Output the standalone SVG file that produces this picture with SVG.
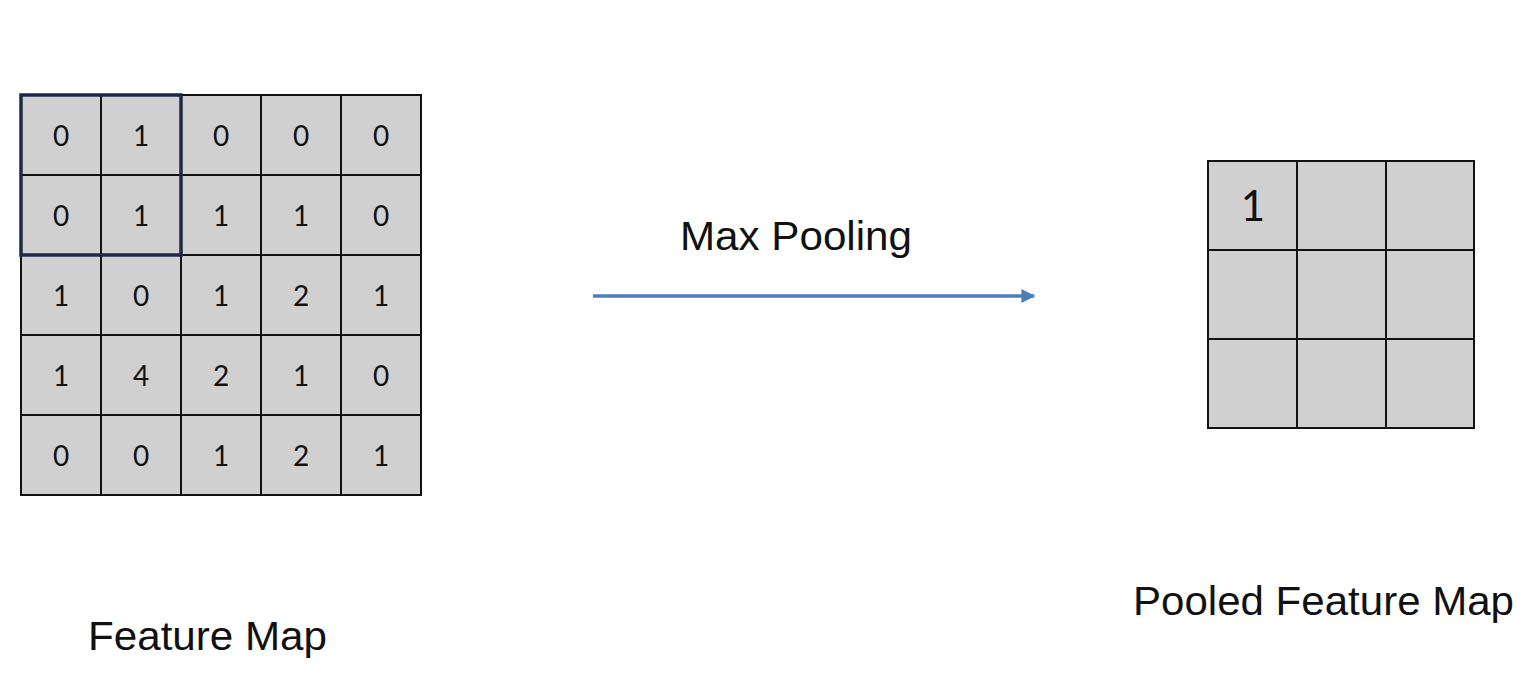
<svg xmlns="http://www.w3.org/2000/svg" width="1539" height="679" viewBox="0 0 1539 679">
  <style>
    .cell { fill: #d0d0d0; stroke: #111; stroke-width: 2; }
    .num { font-family: Lato, "Liberation Sans", sans-serif; font-size: 28px; fill: #111; text-anchor: middle; }
    .big { font-family: Lato, "Liberation Sans", sans-serif; font-size: 42px; fill: #111; text-anchor: middle; }
    .label { font-family: "Liberation Sans", Arial, sans-serif; font-size: 40px; fill: #111; }
    .hl { fill: none; stroke: #1c2a48; stroke-width: 3.5; }
  </style>
  <defs>
    <marker id="ah" viewBox="0 0 10 10" refX="9" refY="5" markerWidth="4" markerHeight="4" orient="auto" markerUnits="strokeWidth">
      <path d="M0,0 L10,5 L0,10 z" fill="#4a7ebb"/>
    </marker>
  </defs>
  <rect width="1539" height="679" fill="#fff"/>

  <g id="feature-map">
    <g id="fm-cells">
      <rect class="cell" x="21" y="95" width="80" height="80"/><rect class="cell" x="101" y="95" width="80" height="80"/><rect class="cell" x="181" y="95" width="80" height="80"/><rect class="cell" x="261" y="95" width="80" height="80"/><rect class="cell" x="341" y="95" width="80" height="80"/>
      <rect class="cell" x="21" y="175" width="80" height="80"/><rect class="cell" x="101" y="175" width="80" height="80"/><rect class="cell" x="181" y="175" width="80" height="80"/><rect class="cell" x="261" y="175" width="80" height="80"/><rect class="cell" x="341" y="175" width="80" height="80"/>
      <rect class="cell" x="21" y="255" width="80" height="80"/><rect class="cell" x="101" y="255" width="80" height="80"/><rect class="cell" x="181" y="255" width="80" height="80"/><rect class="cell" x="261" y="255" width="80" height="80"/><rect class="cell" x="341" y="255" width="80" height="80"/>
      <rect class="cell" x="21" y="335" width="80" height="80"/><rect class="cell" x="101" y="335" width="80" height="80"/><rect class="cell" x="181" y="335" width="80" height="80"/><rect class="cell" x="261" y="335" width="80" height="80"/><rect class="cell" x="341" y="335" width="80" height="80"/>
      <rect class="cell" x="21" y="415" width="80" height="80"/><rect class="cell" x="101" y="415" width="80" height="80"/><rect class="cell" x="181" y="415" width="80" height="80"/><rect class="cell" x="261" y="415" width="80" height="80"/><rect class="cell" x="341" y="415" width="80" height="80"/>
    </g>
    <g id="fm-values">
      <text class="num" x="61" y="146">0</text><text class="num" x="141" y="146">1</text><text class="num" x="221" y="146">0</text><text class="num" x="301" y="146">0</text><text class="num" x="381" y="146">0</text>
      <text class="num" x="61" y="226">0</text><text class="num" x="141" y="226">1</text><text class="num" x="221" y="226">1</text><text class="num" x="301" y="226">1</text><text class="num" x="381" y="226">0</text>
      <text class="num" x="61" y="306">1</text><text class="num" x="141" y="306">0</text><text class="num" x="221" y="306">1</text><text class="num" x="301" y="306">2</text><text class="num" x="381" y="306">1</text>
      <text class="num" x="61" y="386">1</text><text class="num" x="141" y="386">4</text><text class="num" x="221" y="386">2</text><text class="num" x="301" y="386">1</text><text class="num" x="381" y="386">0</text>
      <text class="num" x="61" y="466">0</text><text class="num" x="141" y="466">0</text><text class="num" x="221" y="466">1</text><text class="num" x="301" y="466">2</text><text class="num" x="381" y="466">1</text>
    </g>
    <rect id="window" class="hl" x="21" y="95" width="160" height="160"/>
    <text class="label" x="88" y="650" textLength="239" lengthAdjust="spacingAndGlyphs">Feature Map</text>
  </g>

  <g id="pooled-map">
    <rect class="cell" x="1208" y="161" width="89" height="89"/><rect class="cell" x="1297" y="161" width="89" height="89"/><rect class="cell" x="1386" y="161" width="88" height="89"/>
    <rect class="cell" x="1208" y="250" width="89" height="89"/><rect class="cell" x="1297" y="250" width="89" height="89"/><rect class="cell" x="1386" y="250" width="88" height="89"/>
    <rect class="cell" x="1208" y="339" width="89" height="89"/><rect class="cell" x="1297" y="339" width="89" height="89"/><rect class="cell" x="1386" y="339" width="88" height="89"/>
    <text class="big" x="1253" y="221">1</text>
    <text class="label" x="1133" y="615" textLength="381" lengthAdjust="spacingAndGlyphs">Pooled Feature Map</text>
  </g>

  <g id="connectors">
    <line x1="593" y1="296" x2="1034" y2="296" stroke="#4a7ebb" stroke-width="3.5" marker-end="url(#ah)"/>
    <text class="label" x="680" y="250" textLength="232" lengthAdjust="spacingAndGlyphs">Max Pooling</text>
  </g>
</svg>
